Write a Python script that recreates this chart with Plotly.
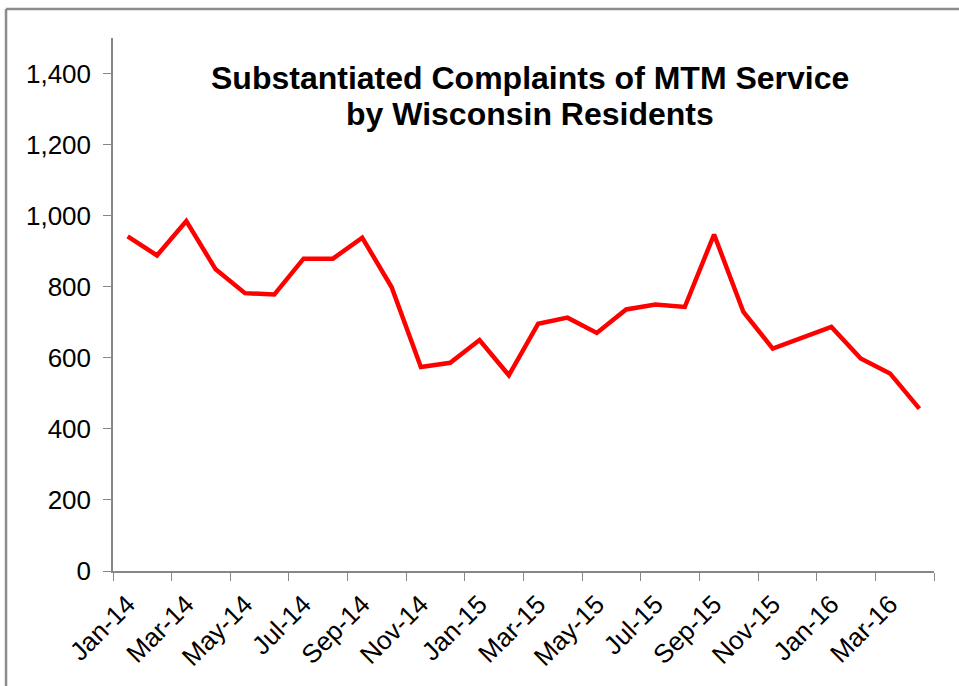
import plotly.graph_objects as go

months = ["Jan-14", "Feb-14", "Mar-14", "Apr-14", "May-14", "Jun-14", "Jul-14",
          "Aug-14", "Sep-14", "Oct-14", "Nov-14", "Dec-14", "Jan-15", "Feb-15",
          "Mar-15", "Apr-15", "May-15", "Jun-15", "Jul-15", "Aug-15", "Sep-15",
          "Oct-15", "Nov-15", "Dec-15", "Jan-16", "Feb-16", "Mar-16", "Apr-16"]
complaints = [942, 888, 985, 849, 782, 778, 879, 879, 938, 799, 574, 586, 650, 551,
              696, 713, 670, 736, 750, 743, 947, 729, 626, 657, 687, 598, 556, 457]
y_ticks = [0, 200, 400, 600, 800, 1000, 1200, 1400]
title_lines = ["Substantiated Complaints of MTM Service", "by Wisconsin Residents"]

FONT = "Liberation Sans, Arial, sans-serif"
AXIS = "#878787"
BORDER = "#8c8c8c"

fig = go.Figure()
fig.add_trace(go.Scatter(x=months, y=complaints, mode="lines",
                         line=dict(color="#FF0000", width=4.5), showlegend=False))

fig.update_layout(
    width=959, height=686,
    margin=dict(l=113, r=25, t=38, b=115),
    paper_bgcolor="white", plot_bgcolor="white",
    font=dict(family=FONT, color="black"),
    xaxis=dict(type="category", tickmode="linear", tick0=0, dtick=2,
               tickson="boundaries", ticks="outside", ticklen=8, tickcolor=AXIS,
               showline=True, linecolor=AXIS, linewidth=1.5, showgrid=False,
               tickangle=-45, tickfont=dict(size=26, family=FONT, color="black"),
               ticklabelstandoff=6,
               range=[-0.5, 27.5], zeroline=False, automargin=False),
    yaxis=dict(range=[0, 1500], tickvals=y_ticks, tickformat=",",
               ticks="outside", ticklen=8, tickcolor=AXIS,
               showline=True, linecolor=AXIS, linewidth=1.5, showgrid=False,
               zeroline=False, automargin=False, ticklabelstandoff=7,
               tickfont=dict(size=26, family=FONT, color="black")),
    annotations=[
        dict(text="<b>%s</b>" % title_lines[0], xref="paper", yref="paper",
             x=0.508, y=0.925, xanchor="center", yanchor="middle", showarrow=False,
             font=dict(size=32, family=FONT, color="black")),
        dict(text="<b>%s</b>" % title_lines[1], xref="paper", yref="paper",
             x=0.508, y=0.857, xanchor="center", yanchor="middle", showarrow=False,
             font=dict(size=32, family=FONT, color="black")),
    ],
    shapes=[
        dict(type="line", xref="paper", yref="paper",
             x0=-0.1303, x1=1.2, y0=1.0544, y1=1.0544,
             line=dict(color=BORDER, width=2.5), layer="below"),
        dict(type="line", xref="paper", yref="paper",
             x0=-0.1303, x1=-0.1303, y0=-0.3, y1=1.0544,
             line=dict(color=BORDER, width=2.5), layer="below"),
    ],
)

fig.write_html("out.html", config={"displayModeBar": False},
               post_script=("document.documentElement.style.overflow='hidden';"
                            "document.documentElement.style.background='white';"
                            "document.body.style.margin='0';"
                            "document.body.style.overflow='hidden';"
                            "document.body.style.background='white';"))
